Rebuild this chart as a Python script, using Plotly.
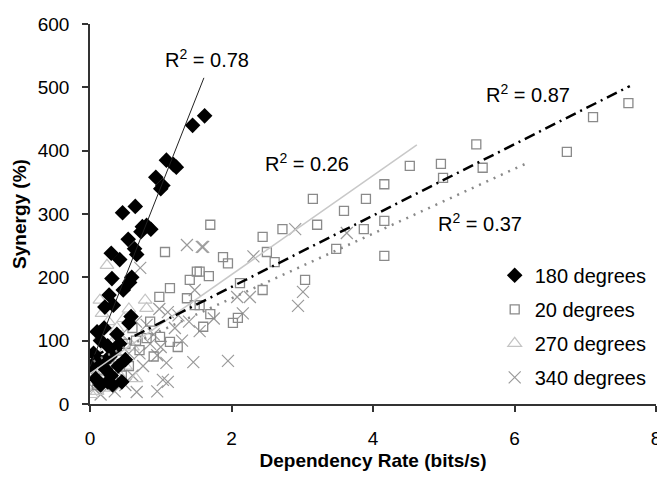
import plotly.graph_objects as go

# ---- data ----
d180_x = [1.62, 1.45, 1.08, 1.18, 1.22, 0.93, 1.03, 1.00, 0.46, 0.64, 0.74, 0.80, 0.86, 0.72,
          0.54, 0.63, 0.66, 0.30, 0.42, 0.31, 0.59, 0.56, 0.47, 0.27, 0.33, 0.21, 0.58, 0.55,
          0.10, 0.20, 0.15, 0.25, 0.05, 0.35, 0.12, 0.40, 0.22, 0.30, 0.08, 0.45, 0.18, 0.28,
          0.38, 0.42, 0.50, 0.02, 0.15, 0.32, 0.25]
d180_y = [455, 440, 385, 378, 374, 358, 345, 340, 302, 312, 280, 282, 276, 272,
          260, 245, 236, 238, 228, 198, 200, 192, 180, 172, 156, 153, 138, 128,
          114, 120, 100, 92, 80, 85, 70, 60, 55, 45, 40, 35, 65, 75,
          110, 95, 70, 60, 30, 30, 35]

d20_x = [7.61, 7.11, 6.74, 5.46, 5.55, 4.96, 4.99, 4.52, 4.16, 4.16, 4.16, 3.90, 3.87, 3.59,
         3.48, 3.15, 3.21, 3.04, 2.72, 2.44, 2.50, 2.61, 2.12, 2.44, 1.70, 1.88, 1.95, 1.55,
         1.68, 1.70, 1.60, 2.02, 2.09, 1.55, 1.06, 1.51, 1.41, 1.13, 0.98, 1.48, 1.37, 0.99,
         0.80, 1.13, 1.24, 0.60, 0.70, 0.50, 0.40, 0.30, 0.20, 0.10, 0.45, 0.55, 0.65, 0.85, 0.90]
d20_y = [475, 453, 398, 410, 373, 379, 357, 376, 347, 289, 234, 324, 276, 305,
         245, 324, 283, 196, 276, 264, 240, 224, 191, 180, 283, 232, 222, 209,
         202, 142, 122, 128, 136, 156, 240, 209, 196, 183, 169, 156, 167, 106,
         104, 98, 90, 120, 85, 95, 70, 50, 40, 30, 45, 60, 100, 130, 75]

d270_x = [0.24, 0.78, 0.80, 0.17, 0.05, 0.08, 0.10, 0.12, 0.15, 0.18, 0.20, 0.22, 0.25, 0.28,
          0.30, 0.33, 0.35, 0.38, 0.40, 0.42, 0.45, 0.50, 0.55, 0.60, 0.65, 0.02, 0.06, 0.14,
          0.26, 0.48, 0.14]
d270_y = [219, 164, 151, 143, 30, 45, 20, 60, 35, 80, 50, 25, 70, 40,
          95, 55, 30, 120, 75, 45, 100, 60, 150, 90, 40, 15, 70, 105,
          130, 135, 164]

d340_x = [1.60, 2.31, 2.90, 3.63, 2.08, 2.26, 2.16, 3.01, 2.94, 1.95, 1.37, 1.58, 0.71, 1.48,
          0.98, 1.10, 1.25, 1.46, 0.95, 1.10, 0.66, 1.03, 1.08, 0.85, 0.90, 1.20, 1.30, 0.75,
          0.60, 0.55, 0.50, 0.40, 0.35, 0.30, 0.25, 0.20, 0.15, 0.10, 0.05, 0.45, 0.65, 0.80,
          1.00, 1.40, 1.55, 1.75, 0.70, 0.95]
d340_y = [248, 233, 276, 270, 169, 169, 143, 177, 155, 68, 251, 248, 215, 180,
          150, 145, 140, 66, 77, 35, 19, 38, 65, 95, 110, 120, 100, 60,
          45, 80, 30, 50, 20, 65, 40, 30, 15, 50, 25, 110, 130, 125,
          90, 130, 115, 135, 80, 20]

# trend lines: [x_start, x_end], [y_start, y_end]
trend180_x = [0.0, 1.61]
trend180_y = [59, 515]
trend_solid_x = [0.0, 4.62]
trend_solid_y = [48, 409]
trend_dash_x = [0.05, 7.63]
trend_dash_y = [75, 502]
trend_dot_x = [0.05, 6.15]
trend_dot_y = [67, 379]

r2_labels = ["R<sup>2</sup> = 0.78", "R<sup>2</sup> = 0.26", "R<sup>2</sup> = 0.87", "R<sup>2</sup> = 0.37"]
r2_x = [1.65, 3.07, 6.19, 5.51]
r2_y = [546, 382, 491, 286]

FONT = "Liberation Sans, Arial, sans-serif"

fig = go.Figure()

fig.add_trace(go.Scatter(x=d340_x, y=d340_y, mode="markers", name="340 degrees",
                         legendgroup="g4", legendrank=4,
                         marker=dict(symbol="x-thin-open", size=12, color="#9a9a9a",
                                     line=dict(width=1.2, color="#9a9a9a"))))
fig.add_trace(go.Scatter(x=d270_x, y=d270_y, mode="markers", name="270 degrees",
                         legendgroup="g3", legendrank=3,
                         marker=dict(symbol="triangle-up-open", size=12, color="#c4c4c4",
                                     line=dict(width=1.2, color="#c4c4c4"))))
fig.add_trace(go.Scatter(x=d20_x, y=d20_y, mode="markers", name="20 degrees",
                         legendgroup="g2", legendrank=2,
                         marker=dict(symbol="square-open", size=9, color="#8a8a8a",
                                     line=dict(width=1.3, color="#8a8a8a"))))
fig.add_trace(go.Scatter(x=d180_x, y=d180_y, mode="markers", name="180 degrees",
                         legendgroup="g1", legendrank=1,
                         marker=dict(symbol="diamond", size=12, color="black")))

fig.add_trace(go.Scatter(x=trend180_x, y=trend180_y, mode="lines", showlegend=False,
                         line=dict(color="#222222", width=1)))
fig.add_trace(go.Scatter(x=trend_solid_x, y=trend_solid_y, mode="lines", showlegend=False,
                         line=dict(color="#c8c8c8", width=1.5)))
fig.add_trace(go.Scatter(x=trend_dot_x, y=trend_dot_y, mode="lines", showlegend=False,
                         line=dict(color="#8a8a8a", width=2.5, dash="2px,6px")))
fig.add_trace(go.Scatter(x=trend_dash_x, y=trend_dash_y, mode="lines", showlegend=False,
                         line=dict(color="black", width=2.5, dash="11px,5px,2px,5px")))

for t, xx, yy in zip(r2_labels, r2_x, r2_y):
    fig.add_annotation(x=xx, y=yy, xref="x", yref="y", text=t, showarrow=False,
                       font=dict(family=FONT, size=20, color="black"))

# the page's body has an 8px default margin, so the figure is 8px smaller
fig.update_layout(
    width=657, height=479,
    margin=dict(l=82, r=9, t=16, b=83),
    paper_bgcolor="white", plot_bgcolor="white",
    font=dict(family=FONT, size=19, color="black"),
    showlegend=True,
    legend=dict(x=0.715, y=0.39, xanchor="left", yanchor="top",
                font=dict(family=FONT, size=20), traceorder="grouped",
                bgcolor="rgba(0,0,0,0)", tracegroupgap=5),
    xaxis=dict(range=[0, 8], dtick=2, showgrid=False, zeroline=False, automargin=False,
               showline=True, linecolor="#333333", linewidth=1.5,
               ticks="outside", ticklen=6, tickcolor="#333333", tickwidth=1.5,
               ticklabelstandoff=10, tickfont=dict(size=19),
               title=dict(text="<b>Dependency Rate (bits/s)</b>", standoff=6,
                          font=dict(size=19))),
    yaxis=dict(range=[0, 600], dtick=100, showgrid=False, zeroline=False, automargin=False,
               showline=True, linecolor="#333333", linewidth=1.5,
               ticks="outside", ticklen=6, tickcolor="#333333", tickwidth=1.5,
               ticklabelstandoff=9, tickfont=dict(size=19),
               title=dict(text="<b>Synergy (%)</b>", standoff=6,
                          font=dict(size=19))),
)

fig.write_html("out.html")
